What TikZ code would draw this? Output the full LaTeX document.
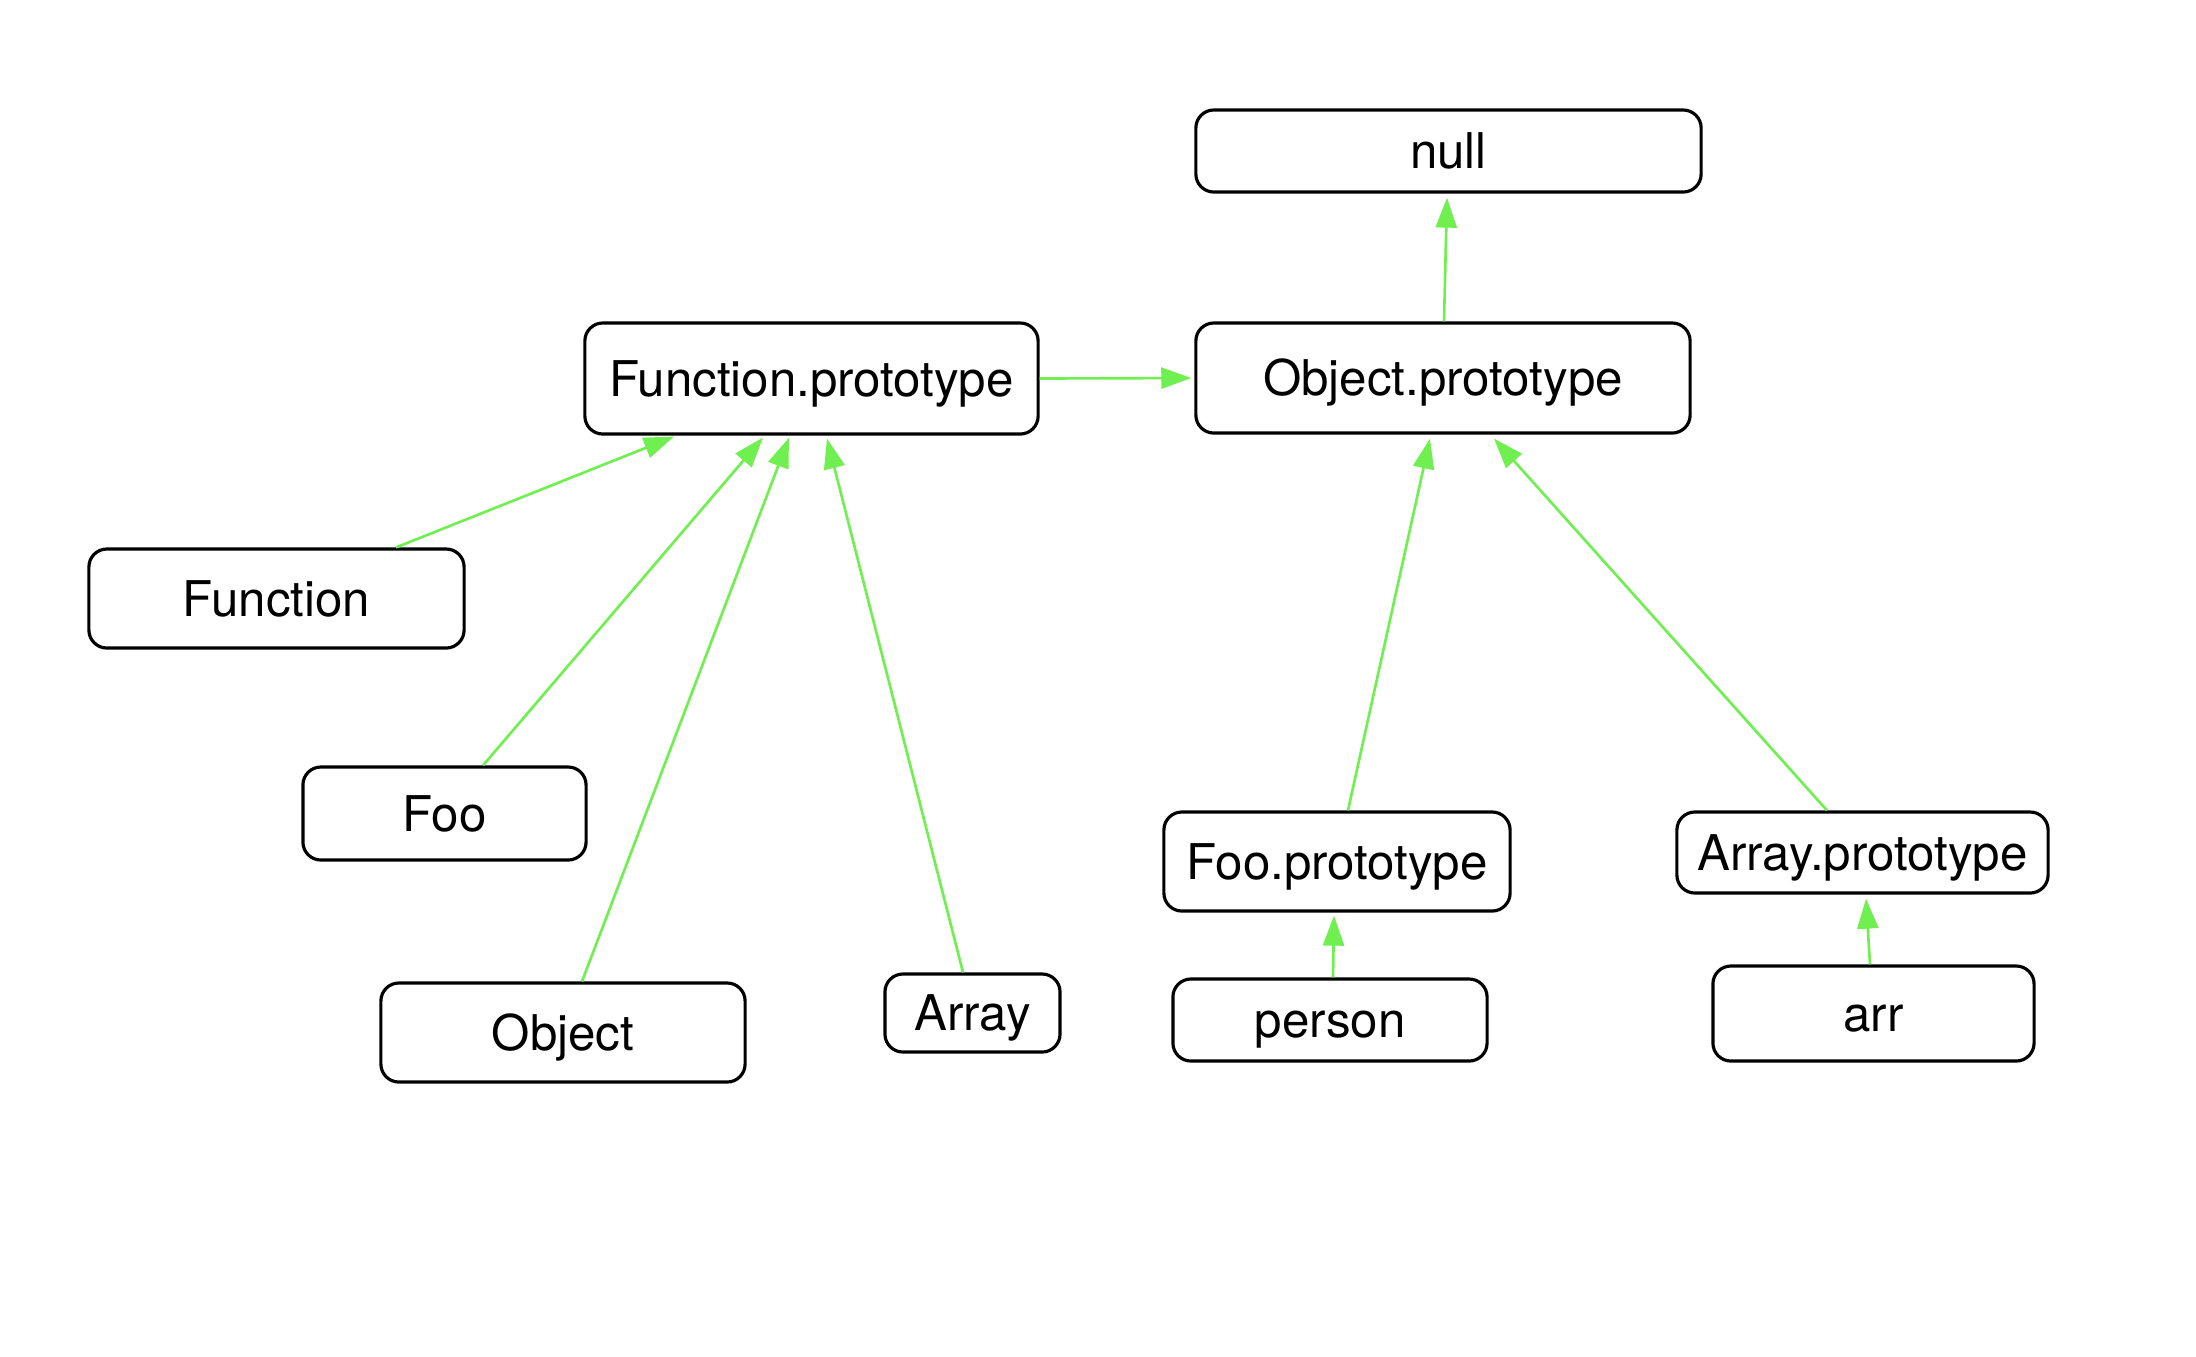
\documentclass[tikz,border=0pt]{standalone}
\usepackage{fontspec}
\setmainfont{TeX Gyre Heros}
\usetikzlibrary{arrows.meta}
\definecolor{linkgreen}{RGB}{112,240,80}
\begin{document}
\begin{tikzpicture}[x=0.01cm,y=-0.01cm,
  box/.style={draw=black,line width=0.9pt,rounded corners=0.18cm,inner sep=0pt,
    text height=10pt,text depth=0pt,font=\fontsize{14}{16}\selectfont},
  link/.style={draw=linkgreen,line width=0.75pt,-{Triangle[length=0.30cm,width=0.21cm]}}]
\useasboundingbox[fill=white] (0,0) rectangle (2196,1356);
\node[box,minimum width=5.05cm,minimum height=0.82cm] (null) at (1448.5,151) {null};
\node[box,minimum width=4.53cm,minimum height=1.11cm] (FP) at (811.5,378.5) {Function.prototype};
\node[box,minimum width=4.94cm,minimum height=1.10cm] (OP) at (1443,378) {Object.prototype};
\node[box,minimum width=3.75cm,minimum height=0.99cm] (Function) at (276.5,598.5) {Function};
\node[box,minimum width=2.83cm,minimum height=0.93cm] (Foo) at (444.5,813.5) {Foo};
\node[box,minimum width=3.64cm,minimum height=0.99cm] (Object) at (563,1032.5) {Object};
\node[box,minimum width=1.75cm,minimum height=0.78cm] (Array) at (972.5,1013) {Array};
\node[box,minimum width=3.46cm,minimum height=0.99cm] (FooP) at (1337,861.5) {Foo.prototype};
\node[box,minimum width=3.71cm,minimum height=0.81cm] (ArrayP) at (1862.5,852.5) {Array.prototype};
\node[box,minimum width=3.14cm,minimum height=0.82cm] (person) at (1330,1020) {person};
\node[box,minimum width=3.21cm,minimum height=0.95cm] (arr) at (1873.5,1013.5) {arr};
% connectors
\draw[link] ([xshift=1.195cm]Function.north) -- ([xshift=-1.375cm,yshift=-0.01cm]FP.south);
\draw[link] ([xshift=0.385cm]Foo.north) -- ([xshift=-0.485cm,yshift=-0.02cm]FP.south);
\draw[link] ([xshift=0.19cm]Object.north) -- ([xshift=-0.225cm,yshift=-0.02cm]FP.south);
\draw[link] ([xshift=-0.095cm]Array.north) -- ([xshift=0.155cm,yshift=-0.03cm]FP.south);
\draw[link] (FP.east) -- ([xshift=-0.03cm]OP.west);
\draw[link] ([xshift=0.01cm]OP.north) -- ([xshift=-0.015cm,yshift=-0.04cm]null.south);
\draw[link] ([xshift=0.11cm]FooP.north) -- ([xshift=-0.13cm,yshift=-0.04cm]OP.south);
\draw[link] ([xshift=-0.355cm]ArrayP.north) -- ([xshift=0.51cm,yshift=-0.04cm]OP.south);
\draw[link] ([xshift=0.03cm]person.north) -- ([xshift=-0.03cm,yshift=-0.03cm]FooP.south);
\draw[link] ([xshift=-0.035cm]arr.north) -- ([xshift=0.035cm,yshift=-0.04cm]ArrayP.south);
\end{tikzpicture}
\end{document}
